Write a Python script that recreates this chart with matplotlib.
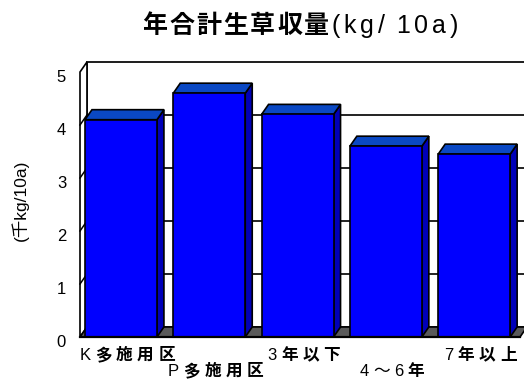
import matplotlib
matplotlib.use('Agg')
import matplotlib.pyplot as plt
from matplotlib.patches import Polygon
from matplotlib.transforms import ScaledTranslation

# yield per plot group (thousand kg / 10a)
categories = ['K多施用区', 'P多施用区', '3年以下', '4～6年', '7年以上']
values = [4.1, 4.6, 4.2, 3.6, 3.45]
yticks = [0, 1, 2, 3, 4, 5]
title_main = '年合計生草収量'
title_unit = '(kg/ 10a)'
ylabel = '(千kg/10a)'

LATIN = 'Liberation Sans'
CJK = 'Noto Sans CJK JP'

W_PX, H_PX = 524, 379
fig = plt.figure(figsize=(W_PX / 100, H_PX / 100), dpi=100)
ax = fig.add_axes([80 / W_PX, 42 / H_PX, 440 / W_PX, 265 / H_PX])

XMIN, XMAX = -0.464, 4.519
YMAX = 5
BAR_W = 0.815
DX, DY = 0.079, 0.189   # depth of the 3d box, in data units

ax.set_xlim(XMIN, XMAX)
ax.set_ylim(0, YMAX)
for s in ax.spines.values():
    s.set_visible(False)
ax.set_xticks([])
ax.patch.set_alpha(0)

edge = dict(edgecolor='black', linewidth=1.2, clip_on=False)

# back wall with gridlines
ax.add_patch(Polygon([(XMIN + DX, DY), (XMAX + DX, DY), (XMAX + DX, YMAX + DY),
                      (XMIN + DX, YMAX + DY)], closed=True, facecolor='white',
                     zorder=1, **edge))
for v in yticks[1:]:
    ax.plot([XMIN + DX, XMAX + DX], [v + DY, v + DY], color='#222222', lw=1.4,
            zorder=1.5, clip_on=False)

# left wall
ax.add_patch(Polygon([(XMIN, 0), (XMIN + DX, DY), (XMIN + DX, YMAX + DY), (XMIN, YMAX)],
                     closed=True, facecolor='white', zorder=2, **edge))
for v in yticks[1:-1]:
    ax.plot([XMIN, XMIN + DX], [v, v + DY], color='black', lw=1.1, zorder=2.5, clip_on=False)

# floor
ax.add_patch(Polygon([(XMIN, 0), (XMAX, 0), (XMAX + DX, DY), (XMIN + DX, DY)],
                     closed=True, facecolor='#5a5a5a', zorder=3, **edge))

# bars: side, top, front
for i, v in enumerate(values):
    x0, x1 = i - BAR_W / 2, i + BAR_W / 2
    ax.add_patch(Polygon([(x1, 0), (x1 + DX, DY), (x1 + DX, v + DY), (x1, v)],
                         closed=True, facecolor='#0000b8', zorder=4, **edge))
    ax.add_patch(Polygon([(x0, v), (x1, v), (x1 + DX, v + DY), (x0 + DX, v + DY)],
                         closed=True, facecolor='#0a48c4', zorder=4, **edge))
ax.bar(range(len(values)), values, width=BAR_W, color='#0000ff', edgecolor='black',
       linewidth=1.2, zorder=5)
ax.plot([XMIN, XMAX], [0, 0], color='black', lw=1.6, zorder=6, clip_on=False)

# y tick labels
ax.set_yticks(yticks)
ax.tick_params(axis='y', length=0, pad=10, labelsize=12)
for lab in ax.get_yticklabels():
    lab.set_family(LATIN)
    lab.set_transform(lab.get_transform() + ScaledTranslation(0, -4 / 100, fig.dpi_scale_trans))

renderer = fig.canvas.get_renderer()


def is_cjk(ch):
    return ord(ch) > 0x2000


def spaced_text(s, xc, ybase, size, gap_cjk, gap_latin):
    # place characters one by one (pixel coords from top-left), centred on xc
    pieces = []
    x = 0
    for ch in s:
        if ch == ' ':
            x += size * 100 / 72 * 0.28
            continue
        bold = 0x3000 <= ord(ch) <= 0x9fff
        t = fig.text(0, 1 - ybase / H_PX, ch, fontsize=size,
                     family=CJK if is_cjk(ch) else LATIN,
                     fontweight='bold' if bold else 'normal',
                     va='baseline', ha='left')
        w = t.get_window_extent(renderer).width
        pieces.append((t, x))
        x += w + (gap_cjk if is_cjk(ch) else gap_latin)
    total = x - gap_latin
    for t, off in pieces:
        t.set_x((xc - total / 2 + off) / W_PX)


spaced_text(title_main + title_unit, 300, 33, 18, 2, 4)

for i, lab in enumerate(categories):
    xc = ax.transData.transform((i, 0))[0] + 6
    ybase = 360 if i % 2 == 0 else 376
    spaced_text(lab, xc, ybase, 12, 4.5, 4.5)

fig.text(20 / W_PX, 1 - 200 / H_PX, ylabel, rotation=90, fontsize=12.5,
         family=[LATIN, CJK], ha='center', va='center')

fig.savefig('out.png', dpi=100)
